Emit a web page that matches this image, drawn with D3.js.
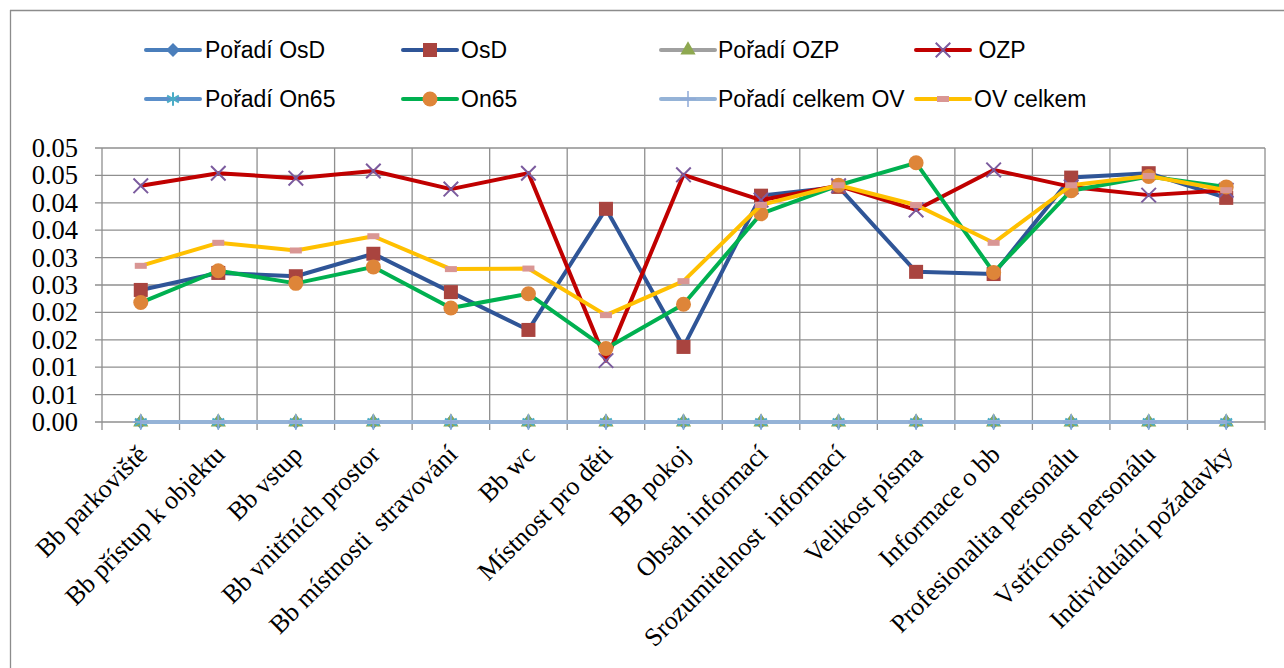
<!DOCTYPE html>
<html>
<head>
<meta charset="utf-8">
<script src="https://cdnjs.cloudflare.com/ajax/libs/d3/7.8.5/d3.min.js"></script>
<style>
body { margin: 0; background: #fff; }
</style>
</head>
<body>
<svg id="chart"></svg>
<script>
var svg_width = 1284
var svg_height = 668

// category labels on the x axis
var categories = ["Bb parkoviště", "Bb přístup k objektu", "Bb vstup", "Bb vnitřních prostor",
  "Bb místnosti  stravování", "Bb wc", "Místnost pro děti", "BB pokoj", "Obsah informací",
  "Srozumitelnost  informací", "Velikost písma", "Informace o bb", "Profesionalita personálu",
  "Vstřícnost personálu", "Individuální požadavky"];

var yTicks = [0, 0.005, 0.01, 0.015, 0.02, 0.025, 0.03, 0.035, 0.04, 0.045, 0.05];
var yTickLabels = ["0.00", "0.01", "0.01", "0.02", "0.02", "0.03", "0.03", "0.04", "0.04", "0.05", "0.05"];

// series values
var poradiOsD = [0, 0, 0, 0, 0, 0, 0, 0, 0, 0, 0, 0, 0, 0, 0];
var osD = [0.0241, 0.0272, 0.0266, 0.0307, 0.0237, 0.0168, 0.0389, 0.0137, 0.0413, 0.0429, 0.0274, 0.0270, 0.0446, 0.0454, 0.0409];
var poradiOZP = [0, 0, 0, 0, 0, 0, 0, 0, 0, 0, 0, 0, 0, 0, 0];
var ozp = [0.0431, 0.0454, 0.0445, 0.0458, 0.0425, 0.0454, 0.0112, 0.0451, 0.0405, 0.0431, 0.0387, 0.0460, 0.0429, 0.0414, 0.0423];
var poradiOn65 = [0, 0, 0, 0, 0, 0, 0, 0, 0, 0, 0, 0, 0, 0, 0];
var on65 = [0.0218, 0.0276, 0.0253, 0.0283, 0.0208, 0.0234, 0.0134, 0.0215, 0.0380, 0.0432, 0.0473, 0.0273, 0.0422, 0.0448, 0.0429];
var poradiCelkemOV = [0, 0, 0, 0, 0, 0, 0, 0, 0, 0, 0, 0, 0, 0, 0];
var ovCelkem = [0.0285, 0.0327, 0.0313, 0.0339, 0.0279, 0.0280, 0.0195, 0.0257, 0.0396, 0.0432, 0.0396, 0.0327, 0.0432, 0.0449, 0.0423];

var series = [
  { name: "Pořadí OsD", values: poradiOsD, line: "#4A7EBB", marker: "diamond", mcolor: "#4A7EBB" },
  { name: "OsD", values: osD, line: "#2F5597", marker: "square", mcolor: "#A9443F" },
  { name: "Pořadí OZP", values: poradiOZP, line: "#A0A0A0", marker: "triangle", mcolor: "#8EA850" },
  { name: " OZP", values: ozp, line: "#C00000", marker: "x", mcolor: "#7B5B9E" },
  { name: "Pořadí On65", values: poradiOn65, line: "#5B8FCA", marker: "asterisk", mcolor: "#4BACC6" },
  { name: "On65", values: on65, line: "#00B050", marker: "circle", mcolor: "#DE8539" },
  { name: "Pořadí celkem OV", values: poradiCelkemOV, line: "#95B3D7", marker: "plus", mcolor: "#8EA9D8" },
  { name: "OV celkem", values: ovCelkem, line: "#FFC000", marker: "dash", mcolor: "#D99694" }
];

var legendPos = [
  { x: 146, y: 50, tx: 205 }, { x: 403, y: 50, tx: 461 }, { x: 661, y: 50, tx: 718 }, { x: 916, y: 50, tx: 972 },
  { x: 146, y: 99, tx: 205 }, { x: 403, y: 99, tx: 461 }, { x: 661, y: 99, tx: 718 }, { x: 916, y: 99, tx: 974 }
];

var svg = d3.select("#chart")
  .attr("width", svg_width)
  .attr("height", svg_height);

// outer chart border (only top and left are visible)
svg.append("line")
  .attr("x1", 10).attr("x2", svg_width)
  .attr("y1", 10.5).attr("y2", 10.5)
  .attr("stroke", "#8c8c8c").attr("stroke-width", 1.3);
svg.append("line")
  .attr("x1", 10.5).attr("x2", 10.5)
  .attr("y1", 10).attr("y2", svg_height)
  .attr("stroke", "#8c8c8c").attr("stroke-width", 1.3);

var x = d3.scaleBand().domain(categories).range([102, 1265]);
var y = d3.scaleLinear().domain([0, 0.05]).range([422, 148]);

// horizontal gridlines
svg.append("g").selectAll("line")
  .data(yTicks)
  .enter()
  .append("line")
  .attr("x1", 95).attr("x2", 1265)
  .attr("y1", function(d) { return y(d); })
  .attr("y2", function(d) { return y(d); })
  .attr("stroke", "#8f8f8f")
  .attr("stroke-width", 1.3);

// vertical gridlines at category boundaries
var bounds = categories.map(function(c) { return x(c); }).concat([1265]);
svg.append("g").selectAll("line")
  .data(bounds)
  .enter()
  .append("line")
  .attr("x1", function(d) { return d; })
  .attr("x2", function(d) { return d; })
  .attr("y1", 148).attr("y2", 430)
  .attr("stroke", "#8f8f8f")
  .attr("stroke-width", 1.3);

// y axis labels
var yAxis = svg.append("g")
  .attr("transform", "translate(102,0)")
  .call(d3.axisLeft(y).tickValues(yTicks)
    .tickFormat(function(d, i) { return yTickLabels[i]; })
    .tickSize(0).tickPadding(24));
yAxis.select(".domain").remove();
yAxis.selectAll("text")
  .attr("font-family", "'Liberation Serif', 'Times New Roman', serif")
  .attr("font-size", "26.5px")
  .attr("fill", "#000");

// x axis labels
var xAxis = svg.append("g")
  .attr("transform", "translate(0,422)")
  .call(d3.axisBottom(x).tickSize(0));
xAxis.select(".domain").remove();
xAxis.selectAll("text")
  .attr("font-family", "'Liberation Serif', 'Times New Roman', serif")
  .attr("font-size", "26px")
  .attr("fill", "#000")
  .attr("text-anchor", "end")
  .attr("dy", 0)
  .attr("y", 0)
  .style("white-space", "pre")
  .attr("transform", "translate(8,34) rotate(-45)");

function drawMarker(g, type, color, cx, cy) {
  if (type === "square") {
    g.append("rect").attr("x", cx - 7).attr("y", cy - 7).attr("width", 14).attr("height", 14).attr("fill", color);
  } else if (type === "circle") {
    g.append("circle").attr("cx", cx).attr("cy", cy).attr("r", 7.5).attr("fill", color);
  } else if (type === "diamond") {
    g.append("path").attr("d", d3.symbol(d3.symbolDiamond2, 125)()).attr("transform", "translate(" + cx + "," + cy + ")").attr("fill", color);
  } else if (type === "triangle") {
    g.append("path").attr("d", d3.symbol(d3.symbolTriangle, 100)()).attr("transform", "translate(" + cx + "," + cy + ")").attr("fill", color);
  } else if (type === "x") {
    g.append("path").attr("d", d3.symbol(d3.symbolTimes, 140)()).attr("transform", "translate(" + cx + "," + cy + ")")
      .attr("fill", "none").attr("stroke", color).attr("stroke-width", 2);
  } else if (type === "asterisk") {
    g.append("path").attr("d", d3.symbol(d3.symbolAsterisk, 130)()).attr("transform", "translate(" + cx + "," + cy + ")")
      .attr("fill", "none").attr("stroke", color).attr("stroke-width", 2);
  } else if (type === "plus") {
    g.append("path").attr("d", d3.symbol(d3.symbolPlus, 86)()).attr("transform", "translate(" + cx + "," + cy + ")")
      .attr("fill", "none").attr("stroke", color).attr("stroke-width", 1.5);
  } else if (type === "dash") {
    g.append("rect").attr("x", cx - 6).attr("y", cy - 3).attr("width", 12).attr("height", 6).attr("fill", color);
  }
}

var line = d3.line()
  .x(function(d, i) { return x(categories[i]) + x.bandwidth() / 2; })
  .y(function(d) { return y(d); });

// series lines with markers
series.forEach(function(s) {
  var g = svg.append("g");
  g.append("path")
    .attr("d", line(s.values))
    .attr("fill", "none")
    .attr("stroke", s.line)
    .attr("stroke-width", 4)
    .attr("stroke-linejoin", "round");
  s.values.forEach(function(v, i) {
    drawMarker(g, s.marker, s.mcolor, x(categories[i]) + x.bandwidth() / 2, y(v));
  });
});

// legend
var legend = svg.append("g");
series.forEach(function(s, i) {
  var p = legendPos[i];
  legend.append("line")
    .attr("x1", p.x).attr("x2", p.x + 54)
    .attr("y1", p.y).attr("y2", p.y)
    .attr("stroke", s.line)
    .attr("stroke-width", 4)
    .attr("stroke-linecap", "round");
  drawMarker(legend, s.marker, s.mcolor, p.x + 27, p.y);
  legend.append("text")
    .attr("x", p.tx)
    .attr("y", p.y)
    .attr("dy", "0.35em")
    .attr("font-family", "'Liberation Sans', Arial, sans-serif")
    .attr("font-size", "23px")
    .attr("fill", "#000")
    .style("white-space", "pre")
    .text(s.name);
});
</script>
</body>
</html>
